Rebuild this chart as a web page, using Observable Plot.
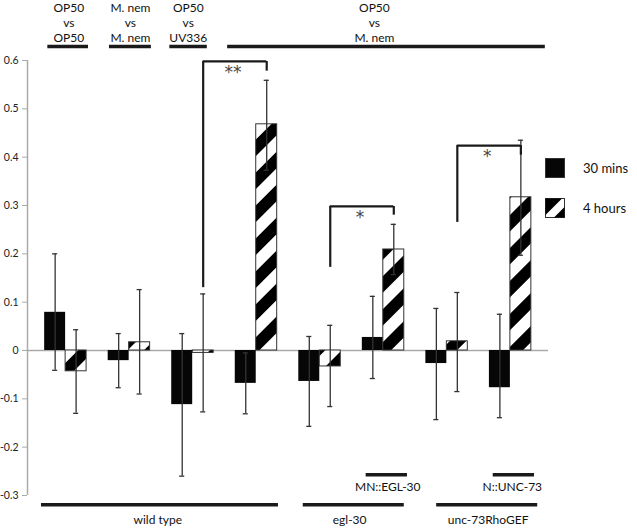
<!DOCTYPE html>
<html><head><meta charset="utf-8">
<script src="https://cdn.jsdelivr.net/npm/d3@7"></script>
<script src="https://cdn.jsdelivr.net/npm/@observablehq/plot@0.6"></script>
<style>
body{margin:0;background:#fff;font-family:Lato,sans-serif;}
#wrap{position:relative;width:637px;height:529px;}
.leg{position:absolute;left:545px;height:20px;font-size:13px;color:#111;display:flex;align-items:center;}
.leg span{margin-left:18px;}
</style></head><body>
<svg width="0" height="0" style="position:absolute"><defs>
<pattern id="hatch" patternUnits="userSpaceOnUse" width="23.3" height="23.3" patternTransform="rotate(-45)">
<rect width="23.3" height="23.3" fill="#fff"/><rect width="23.3" height="11.65" fill="#000"/>
</pattern></defs></svg>
<div id="wrap"></div>
<script>
// Eight bar pairs (left to right)
const pairs = ["wt OP50/OP50", "wt M.nem/M.nem", "wt OP50/UV336", "wt OP50/M.nem",
  "egl-30 OP50/M.nem", "egl-30;MN::EGL-30 OP50/M.nem", "unc-73 OP50/M.nem", "unc-73;N::UNC-73 OP50/M.nem"];
const series = ["30 mins", "4 hours"];
const thirty   = [0.079, -0.021, -0.112, -0.068, -0.064, 0.027, -0.027, -0.077];
const thirtyHi = [0.200, 0.035, 0.035, -0.005, 0.029, 0.112, 0.087, 0.075];
const thirtyLo = [-0.041, -0.077, -0.260, -0.131, -0.157, -0.058, -0.143, -0.139];
const four     = [-0.043, 0.017, -0.005, 0.468, -0.033, 0.209, 0.019, 0.317];
const fourHi   = [0.043, 0.126, 0.117, 0.559, 0.052, 0.261, 0.120, 0.435];
const fourLo   = [-0.130, -0.090, -0.127, 0.373, -0.116, 0.157, -0.085, 0.197];
const yTicks = [-0.3, -0.2, -0.1, 0, 0.1, 0.2, 0.3, 0.4, 0.5, 0.6];

// Comparison labels on top (spans in pair-index units)
const topLabels = ["OP50\nvs\nOP50", "M. nem\nvs\nM. nem", "OP50\nvs\nUV336", "OP50\nvs\nM. nem"];
const topStart = [-0.28, 0.69, 1.64, 2.55];
const topEnd   = [0.36, 1.35, 2.23, 7.55];
const topLabelX = [0.05, 1.02, 1.93, 4.86];

// Genotype groups on bottom
const genoLabels = ["wild type", "egl-30", "unc-73RhoGEF"];
const genoStart = [-0.38, 3.74, 5.84];
const genoEnd   = [3.35, 5.33, 7.43];
const genoLabelX = [1.45, 4.47, 6.65];
const rescueLabels = ["MN::EGL-30", "N::UNC-73"];
const rescueStart = [4.73, 6.73];
const rescueEnd   = [5.38, 7.38];
const rescueLabelX = [5.07, 7.03];

// Significance brackets between 4-hour bars
const sigLabels = ["**", "*", "*"];
const sigLeft  = [2, 4, 6];
const sigRight = [3, 5, 7];
const sigTop   = [0.598, 0.298, 0.424];
const sigLeftEnd  = [0.130, 0.172, 0.265];
const sigRightEnd = [0.578, 0.280, 0.404];

const W = 0.33; // bar width in pair units
const bars = pairs.flatMap((p, i) => [
  {i, s: 0, v: thirty[i], hi: thirtyHi[i], lo: thirtyLo[i]},
  {i, s: 1, v: four[i], hi: fourHi[i], lo: fourLo[i]}
]);
const cx = d => d.i + (d.s - 0.5) * W;
const tops = topLabels.map((t, k) => ({t, a: topStart[k], b: topEnd[k], x: topLabelX[k]}));
const genos = genoLabels.map((t, k) => ({t, a: genoStart[k], b: genoEnd[k], x: genoLabelX[k]}));
const rescues = rescueLabels.map((t, k) => ({t, a: rescueStart[k], b: rescueEnd[k], x: rescueLabelX[k]}));
const sigs = sigLabels.map((t, k) => ({t, l: sigLeft[k] + W / 2, r: sigRight[k] + W / 2, top: sigTop[k], le: sigLeftEnd[k], re: sigRightEnd[k]}));
const fmt = d => d === 0 ? "0" : d.toFixed(1);
const ink = "#1a1a1a";

const chart = Plot.plot({
  width: 637, height: 529,
  marginTop: 60, marginBottom: 34, marginLeft: 27, marginRight: 89,
  style: {fontFamily: "Lato, sans-serif", fontSize: "11px", color: "#111", background: "#fff"},
  x: {domain: [-0.6, 7.6], axis: null},
  y: {domain: [-0.3, 0.6], axis: null},
  marks: [
    Plot.ruleY([0], {x1: -0.6, x2: 7.6, stroke: "#aaa", strokeWidth: 1.5}),
    Plot.ruleX([-0.6], {y1: -0.3, y2: 0.6, stroke: "#aaa", strokeWidth: 1.5}),
    Plot.axisY({ticks: yTicks, tickFormat: fmt, tickSize: 5, tickPadding: 4, stroke: "#aaa", fill: "#222", fontSize: 10.5}),
    Plot.rectY(bars.filter(d => d.s === 0), {x1: d => d.i - W, x2: d => d.i, y1: 0, y2: "v", fill: "#060606"}),
    Plot.rectY(bars.filter(d => d.s === 1), {x1: d => d.i, x2: d => d.i + W, y1: 0, y2: "v", fill: "url(#hatch)", stroke: "#333", strokeWidth: 1}),
    Plot.ruleX(bars, {x: cx, y1: "lo", y2: "hi", stroke: "#333", strokeWidth: 1.3}),
    Plot.ruleY(bars, {y: "hi", x1: d => cx(d) - 0.04, x2: d => cx(d) + 0.04, stroke: "#333", strokeWidth: 1.3}),
    Plot.ruleY(bars, {y: "lo", x1: d => cx(d) - 0.04, x2: d => cx(d) + 0.04, stroke: "#333", strokeWidth: 1.3}),
    // brackets
    Plot.ruleY(sigs, {y: "top", x1: "l", x2: "r", stroke: ink, strokeWidth: 2.2}),
    Plot.ruleX(sigs, {x: "l", y1: "le", y2: "top", stroke: ink, strokeWidth: 2.2}),
    Plot.ruleX(sigs, {x: "r", y1: "re", y2: "top", stroke: ink, strokeWidth: 2.2}),
    Plot.text(sigs, {x: d => (d.l + d.r) / 2 - 0.03, y: "top", text: "t", lineAnchor: "top", dy: 4, fontSize: 17, fontFamily: "DejaVu Sans", fill: "#444"}),
    // top comparison labels
    Plot.ruleY(tops, {y: () => 0.629, x1: "a", x2: "b", stroke: ink, strokeWidth: 3.5}),
    Plot.text(tops, {x: "x", y: () => 0.639, text: "t", lineAnchor: "bottom", lineHeight: 1.22, fontSize: 12, fill: "#111"}),
    // bottom genotype labels
    Plot.ruleY(genos, {y: () => -0.319, x1: "a", x2: "b", stroke: ink, strokeWidth: 3.5}),
    Plot.text(genos, {x: "x", y: () => -0.35, text: "t", lineAnchor: "middle", fontSize: 12, fill: "#111"}),
    Plot.ruleY(rescues, {y: () => -0.257, x1: "a", x2: "b", stroke: ink, strokeWidth: 3.5}),
    Plot.text(rescues, {x: "x", y: () => -0.282, text: "t", lineAnchor: "middle", fontSize: 12, fill: "#111"})
  ]
});
const wrap = document.getElementById("wrap");
wrap.appendChild(chart);

// legend
const legendItems = [
  {name: series[0], top: 158, svg: '<rect x="0.5" y="0.5" width="19" height="19" fill="#060606" stroke="#333"/>'},
  {name: series[1], top: 198, svg: '<rect x="0.5" y="0.5" width="19" height="19" fill="#fff" stroke="#333"/><polygon points="0.5,0.5 17,0.5 0.5,17" fill="#000"/><polygon points="19.5,9 19.5,19.5 9,19.5" fill="#000"/>'}
];
for (const it of legendItems) {
  const div = document.createElement("div");
  div.className = "leg";
  div.style.top = it.top + "px";
  div.innerHTML = `<svg width="20" height="20">${it.svg}</svg><span>${it.name}</span>`;
  wrap.appendChild(div);
}
</script>
</body></html>
